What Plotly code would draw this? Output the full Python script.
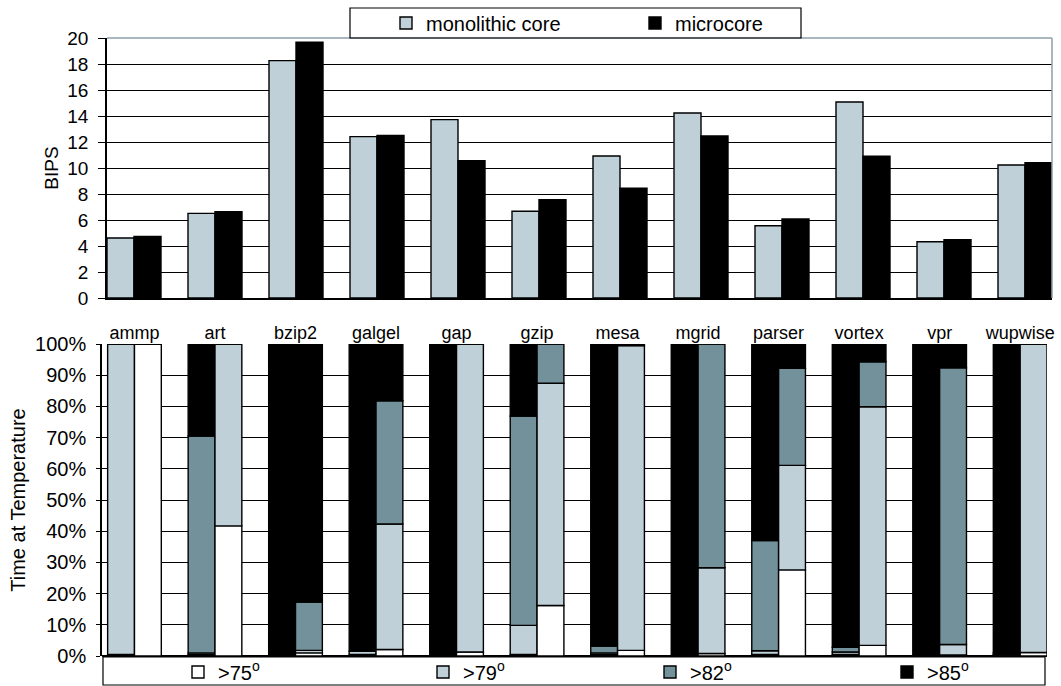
import plotly.graph_objects as go

W, H = 1061, 686

categories = ["ammp", "art", "bzip2", "galgel", "gap", "gzip", "mesa",
              "mgrid", "parser", "vortex", "vpr", "wupwise"]

# Top chart: BIPS
bips_monolithic = [4.62, 6.51, 18.26, 12.41, 13.72, 6.67, 10.92, 14.23, 5.56, 15.08, 4.33, 10.23]
bips_microcore = [4.74, 6.64, 19.67, 12.51, 10.56, 7.56, 8.44, 12.46, 6.08, 10.90, 4.49, 10.41]

# Bottom chart: time at temperature (%), monolithic core
mono_gt75 = [0.5, 0.5, 0, 0.5, 0, 0.5, 0.5, 0, 0.5, 0.5, 0, 0.3]
mono_gt79 = [99.5, 0.5, 0, 1.0, 0, 9.3, 0.5, 0, 1.2, 0.8, 0, 0.3]
mono_gt82 = [0, 69.5, 0, 0, 0, 67.1, 2.2, 0, 35.3, 1.5, 0, 0.4]
mono_gt85 = [0, 29.5, 100, 98.5, 100, 23.1, 96.8, 100, 63.0, 97.2, 100, 99.0]

# Bottom chart: time at temperature (%), microcore
micro_gt75 = [100, 41.7, 1.0, 2.1, 1.3, 16.2, 1.8, 0.8, 27.6, 3.4, 0.3, 1.1]
micro_gt79 = [0, 58.3, 0.8, 40.2, 98.7, 71.2, 97.7, 27.5, 33.5, 76.5, 3.4, 98.9]
micro_gt82 = [0, 0, 15.5, 39.5, 0, 12.6, 0, 71.7, 31.1, 14.4, 88.7, 0]
micro_gt85 = [0, 0, 82.7, 18.2, 0, 0, 0.5, 0, 7.8, 5.7, 7.6, 0]

level_names = [">75<sup>o</sup>", ">79<sup>o</sup>", ">82<sup>o</sup>", ">85<sup>o</sup>"]

LIGHT = "#BFD0D8"
DARK = "#72919A"
level_colors = ["#FFFFFF", LIGHT, DARK, "#000000"]

FONT = "Liberation Sans, Arial, Helvetica, sans-serif"
BW = 1 / 3

def px_x(p):
    return p / W

def px_y(p):
    return 1 - p / H

fig = go.Figure()

# ---- Top chart ----
fig.add_trace(go.Bar(x=categories, y=bips_monolithic, name="monolithic core",
                     marker=dict(color=LIGHT, line=dict(color="#000000", width=1.4)),
                     offset=-BW, width=BW, xaxis="x", yaxis="y", legend="legend",
                     showlegend=True))
fig.add_trace(go.Bar(x=categories, y=bips_microcore, name="microcore",
                     marker=dict(color="#000000", line=dict(color="#000000", width=1.4)),
                     offset=0, width=BW, xaxis="x", yaxis="y", legend="legend2",
                     showlegend=True))

# ---- Bottom chart ----
mono_levels = [mono_gt75, mono_gt79, mono_gt82, mono_gt85]
micro_levels = [micro_gt75, micro_gt79, micro_gt82, micro_gt85]
legend_ids = ["legend3", "legend4", "legend5", "legend6"]

for group, levels, off, show in [("mono", mono_levels, -BW, True), ("micro", micro_levels, 0, False)]:
    base = [0.0] * len(categories)
    for li, vals in enumerate(levels):
        fig.add_trace(go.Bar(x=categories, y=vals, base=list(base), name=level_names[li],
                             marker=dict(color=level_colors[li],
                                         line=dict(color="#000000", width=1.4)),
                             offset=off, width=BW, xaxis="x2", yaxis="y2",
                             legend=legend_ids[li], legendgroup=legend_ids[li],
                             showlegend=show))
        base = [b + v for b, v in zip(base, vals)]

# ---- Axes ----
top_dom_x = [px_x(107), px_x(1052)]
top_dom_y = [px_y(298), px_y(38)]
bot_dom_x = [px_x(102), px_x(1047)]
bot_dom_y = [px_y(656), px_y(344)]

fig.update_layout(
    width=W, height=H,
    margin=dict(l=0, r=0, t=0, b=0, autoexpand=False),
    paper_bgcolor="white", plot_bgcolor="white",
    barmode="overlay",
    showlegend=True,
    font=dict(family=FONT, color="#000000"),
    xaxis=dict(domain=top_dom_x, anchor="y", range=[-BW, 11 + BW], automargin=False,
               showticklabels=False, ticks="", showgrid=False,
               showline=True, linecolor="#000000", linewidth=1.5),
    yaxis=dict(domain=top_dom_y, anchor="x", range=[0, 20], dtick=2, automargin=False,
               showgrid=True, gridcolor="#000000", gridwidth=1,
               showline=True, linecolor="#000000", linewidth=1.5,
               ticks="outside", ticklen=7, tickcolor="#000000",
               ticklabelstandoff=6,
               tickfont=dict(size=19), zeroline=False,
               title=dict(text="BIPS", font=dict(size=19), standoff=4)),
    xaxis2=dict(domain=bot_dom_x, anchor="y2", range=[-BW - 0.07, 11 + BW], automargin=False,
                side="top", showticklabels=True, ticks="", showgrid=False,
                showline=False, tickfont=dict(size=18)),
    yaxis2=dict(domain=bot_dom_y, anchor="x2", range=[0, 100], dtick=10, automargin=False,
                ticksuffix="%", showgrid=True, gridcolor="#000000", gridwidth=1,
                showline=True, linecolor="#000000", linewidth=1.5,
                ticks="outside", ticklen=4, tickcolor="#000000",
                ticklabelstandoff=6,
                tickfont=dict(size=20), zeroline=True, zerolinecolor="#000000",
                zerolinewidth=1.5,
                title=dict(text="Time at Temperature", font=dict(size=20), standoff=4)),
)

# ---- Legends (one item each, positioned individually) ----
def leg(xp, yc, size):
    return dict(x=px_x(xp), y=px_y(yc), xanchor="left", yanchor="middle",
                orientation="h", bgcolor="rgba(0,0,0,0)", borderwidth=0,
                font=dict(size=size, family=FONT, color="#000000"))

fig.update_layout(
    legend=leg(386, 23, 20),
    legend2=leg(635, 23, 20),
    legend3=leg(178, 672, 20),
    legend4=leg(423, 672, 20),
    legend5=leg(650, 672, 20),
    legend6=leg(887, 672, 20),
)

# ---- Frames / boxes ----
shapes = [
    # top plot frame (top and right edges)
    dict(type="line", xref="paper", yref="paper", x0=top_dom_x[0], x1=top_dom_x[1],
         y0=top_dom_y[1], y1=top_dom_y[1], line=dict(color="#8CA1AB", width=1.5)),
    dict(type="line", xref="paper", yref="paper", x0=top_dom_x[1], x1=top_dom_x[1],
         y0=top_dom_y[0], y1=top_dom_y[1], line=dict(color="#8CA1AB", width=1.5)),
    # top legend box
    dict(type="rect", xref="paper", yref="paper", x0=px_x(350), x1=px_x(801),
         y0=px_y(38), y1=px_y(8), line=dict(color="#000000", width=1.2),
         fillcolor="rgba(0,0,0,0)", layer="above"),
    # bottom legend box
    dict(type="rect", xref="paper", yref="paper", x0=px_x(103), x1=px_x(1045),
         y0=px_y(685), y1=px_y(657), line=dict(color="#000000", width=1.2),
         fillcolor="rgba(0,0,0,0)", layer="above"),
]
fig.update_layout(shapes=shapes)

fig.write_html("out.html", config={"displayModeBar": False},
               post_script="document.body.style.margin='0';document.body.style.overflow='hidden';")
